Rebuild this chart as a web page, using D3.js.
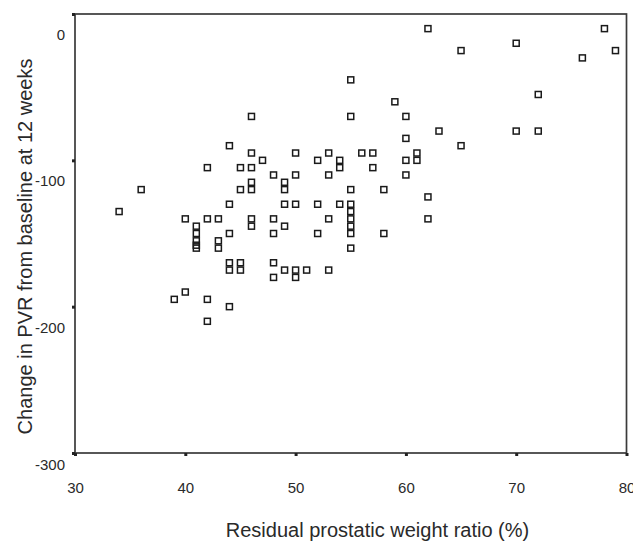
<!DOCTYPE html>
<html>
<head>
<meta charset="utf-8">
<script src="https://cdn.jsdelivr.net/npm/d3@7"></script>
<style>
  html, body { margin: 0; padding: 0; background: #fff; }
  svg { display: block; }
  text { font-family: "Liberation Sans", Arial, Helvetica, sans-serif; fill: #2a2a2a; }
</style>
</head>
<body>
<svg id="chart" width="633" height="541"></svg>
<script>
// Residual prostatic weight ratio (%) for each patient
const ratio = [
  34, 36, 40, 40, 39, 42, 42, 42, 42,
  41, 41, 41, 41, 41,
  43, 43, 43,
  44, 44, 44, 44, 44, 44,
  45, 45, 45, 45,
  46, 46, 46, 46, 46, 46, 46,
  47,
  48, 48, 48, 48, 48,
  49, 49, 49, 49, 49,
  50, 50, 50, 50, 50,
  51,
  52, 52, 52,
  53, 53, 53, 53,
  54, 54, 54,
  55, 55, 55, 55, 55, 55, 55, 55, 55,
  56,
  57, 57,
  58, 58,
  59,
  60, 60, 60, 60,
  61, 61,
  62, 62, 62,
  63,
  65, 65,
  70, 70,
  72, 72,
  76, 78, 79
];

// Change in post-void residual from baseline at 12 weeks (mL), same order
const pvrChange = [
  -135, -120, -140, -190, -195, -105, -140, -195, -210,
  -145, -150, -155, -158, -160,
  -140, -155, -160,
  -90, -130, -150, -170, -175, -200,
  -105, -120, -170, -175,
  -70, -95, -105, -115, -120, -140, -145,
  -100,
  -110, -140, -150, -170, -180,
  -115, -120, -130, -145, -175,
  -95, -110, -130, -175, -180,
  -175,
  -100, -130, -150,
  -95, -110, -140, -175,
  -100, -105, -130,
  -45, -70, -120, -130, -135, -140, -145, -150, -160,
  -95,
  -95, -105,
  -120, -150,
  -60,
  -70, -85, -100, -110,
  -95, -100,
  -10, -125, -140,
  -80,
  -25, -90,
  -20, -80,
  -55, -80,
  -30, -10, -25
];

const xTicks = [30, 40, 50, 60, 70, 80];
const yTicks = [0, -100, -200, -300];
const xTitle = "Residual prostatic weight ratio (%)";
const yTitle = "Change in PVR from baseline at 12 weeks";

const svg = d3.select("#chart");

const x = d3.scaleLinear().domain([30, 80]).range([75, 626.5]);
const y = d3.scaleLinear().domain([-300, 0]).range([453, 14]);

// plot frame
svg.append("rect")
  .attr("x", x(30)).attr("y", y(0))
  .attr("width", x(80) - x(30)).attr("height", y(-300) - y(0))
  .attr("fill", "none").attr("stroke", "#3a3a3a").attr("stroke-width", 1.7);

// x axis: small square tick marks below the frame
const gx = svg.append("g")
  .attr("transform", `translate(0,${y(-300)})`)
  .call(d3.axisBottom(x).tickValues(xTicks).tickSize(3).tickFormat(d3.format("d")));
gx.select(".domain").remove();
gx.selectAll(".tick line").attr("stroke", "#222").attr("stroke-width", 3);
gx.selectAll(".tick text")
  .attr("y", 35).attr("dy", "0.36em")
  .style("font-size", "15px").attr("fill", "#2a2a2a");

// y axis: square tick marks left of the frame, labels set slightly below them
const gy = svg.append("g")
  .attr("transform", `translate(${x(30)},0)`)
  .call(d3.axisLeft(y).tickValues(yTicks).tickSize(3).tickFormat(d3.format("d")));
gy.select(".domain").remove();
gy.selectAll(".tick line").attr("stroke", "#222").attr("stroke-width", 3);
gy.selectAll(".tick text")
  .attr("x", -10).attr("dy", "0.36em")
  .attr("transform", d => `translate(0,${d === -300 ? 11 : 20})`)
  .style("font-size", "15px").attr("fill", "#2a2a2a")
  .text(d => d === 0 ? "0" : "-" + Math.abs(d));

// hollow square markers
const pts = ratio.map((r, i) => ({ r, v: pvrChange[i] }));
const s = 6;
svg.append("g").selectAll("rect")
  .data(pts)
  .join("rect")
  .attr("x", d => x(d.r) - s / 2)
  .attr("y", d => y(d.v) - s / 2)
  .attr("width", s).attr("height", s)
  .attr("fill", "none")
  .attr("stroke", "#1a1a1a").attr("stroke-width", 1.5);

// axis titles
svg.append("text")
  .attr("x", 377.5).attr("y", 537)
  .attr("text-anchor", "middle")
  .style("font-size", "20px")
  .text(xTitle);

svg.append("text")
  .attr("transform", "translate(32,246.5) rotate(-90)")
  .attr("text-anchor", "middle")
  .style("font-size", "20px")
  .text(yTitle);
</script>
</body>
</html>
